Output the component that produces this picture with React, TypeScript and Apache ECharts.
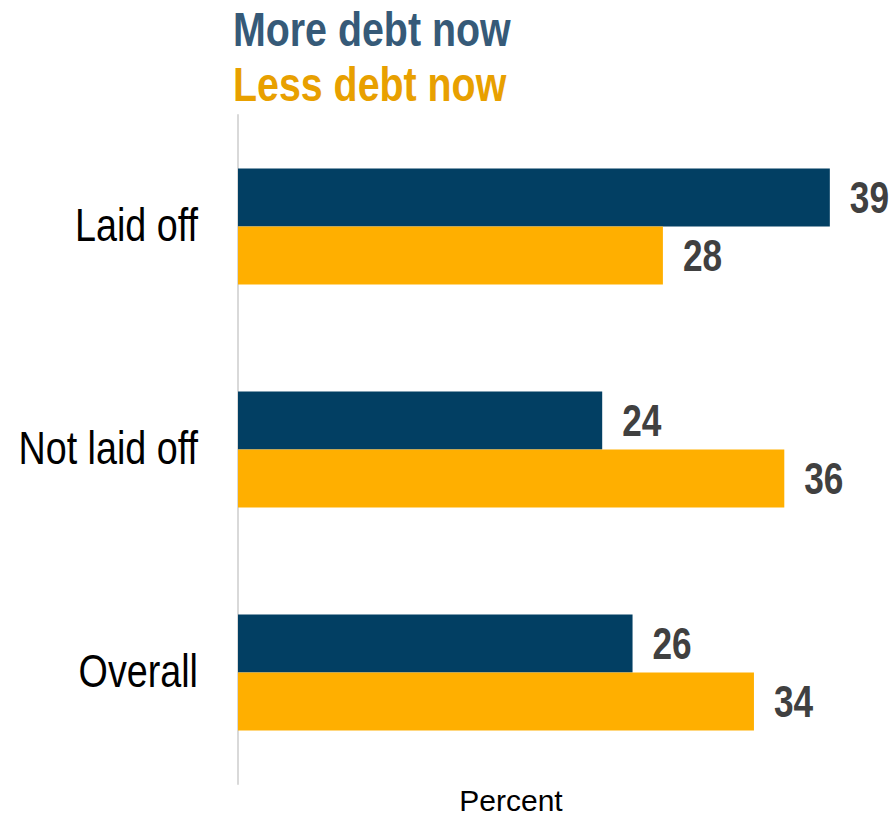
import React, { useEffect, useRef } from "react";
import * as echarts from "echarts";

const categories = ["Laid off", "Not laid off", "Overall"];
const moreDebt = [39, 24, 26];
const lessDebt = [28, 36, 34];
const seriesNames = ["More debt now", "Less debt now"];
const axisName = "Percent";

const SANS = "'Liberation Sans', Arial, sans-serif";
const BAR_W = 58;
const NAVY = "#023F63";
const ORANGE = "#FFAF00";

function valueLabelSeries(values: number[], side: number) {
  return {
    type: "custom",
    silent: true,
    z: 5,
    data: values.map((v, i) => [v, i]),
    encode: { x: 0, y: 1 },
    renderItem: (params: any, api: any) => {
      const v = api.value(0);
      const c = api.value(1);
      const p = api.coord([v, c]);
      return {
        type: "text",
        x: p[0] + 20,
        y: p[1] + (side * BAR_W) / 2,
        scaleX: 0.8,
        scaleY: 1,
        style: {
          text: String(v),
          align: "left",
          verticalAlign: "middle",
          fontSize: 44,
          fontWeight: "bold",
          fontFamily: SANS,
          fill: "#404040",
        },
      };
    },
  };
}

export default function App() {
  const ref = useRef<HTMLDivElement>(null);
  useEffect(() => {
    if (!ref.current) return;
    const chart = echarts.init(ref.current, undefined, { renderer: "svg" });
    chart.setOption({
      animation: false,
      backgroundColor: "#ffffff",
      grid: {
        left: 238,
        top: 115,
        width: 607,
        height: 669,
        containLabel: false,
        outerBoundsMode: "none",
      },
      xAxis: { type: "value", min: 0, max: 40, show: false },
      yAxis: {
        type: "category",
        data: categories,
        inverse: true,
        axisLine: { show: true, lineStyle: { color: "#d9d9d9", width: 2 } },
        axisTick: { show: false },
        axisLabel: { show: false },
      },
      graphic: [
        {
          type: "text",
          x: 233,
          y: 29.5,
          scaleX: 0.82,
          style: {
            text: seriesNames[0],
            align: "left",
            verticalAlign: "middle",
            fontSize: 48,
            fontWeight: "bold",
            fontFamily: SANS,
            fill: "#365A78",
          },
        },
        {
          type: "text",
          x: 233,
          y: 84,
          scaleX: 0.82,
          style: {
            text: seriesNames[1],
            align: "left",
            verticalAlign: "middle",
            fontSize: 48,
            fontWeight: "bold",
            fontFamily: SANS,
            fill: "#E8A000",
          },
        },
        {
          type: "text",
          x: 511,
          y: 800,
          style: {
            text: axisName,
            align: "center",
            verticalAlign: "middle",
            fontSize: 30,
            fontFamily: SANS,
            fill: "#000000",
          },
        },
      ],
      series: [
        {
          type: "bar",
          name: seriesNames[0],
          data: moreDebt,
          barWidth: BAR_W,
          barGap: "0%",
          itemStyle: { color: NAVY },
        },
        {
          type: "bar",
          name: seriesNames[1],
          data: lessDebt,
          barWidth: BAR_W,
          barGap: "0%",
          itemStyle: { color: ORANGE },
        },
        valueLabelSeries(moreDebt, -1),
        valueLabelSeries(lessDebt, 1),
        {
          type: "custom",
          silent: true,
          data: categories.map((_, i) => [0, i]),
          encode: { x: 0, y: 1 },
          renderItem: (params: any, api: any) => {
            const c = api.value(1);
            const p = api.coord([0, c]);
            return {
              type: "text",
              x: p[0] - 40,
              y: p[1] - 1,
              scaleX: 0.82,
              style: {
                text: categories[c],
                align: "right",
                verticalAlign: "middle",
                fontSize: 46,
                fontFamily: SANS,
                fill: "#000000",
              },
            };
          },
        },
      ],
    });
    return () => chart.dispose();
  }, []);
  return (
    <div
      ref={ref}
      style={{ position: "absolute", left: 0, top: 0, width: 894, height: 815 }}
    />
  );
}
